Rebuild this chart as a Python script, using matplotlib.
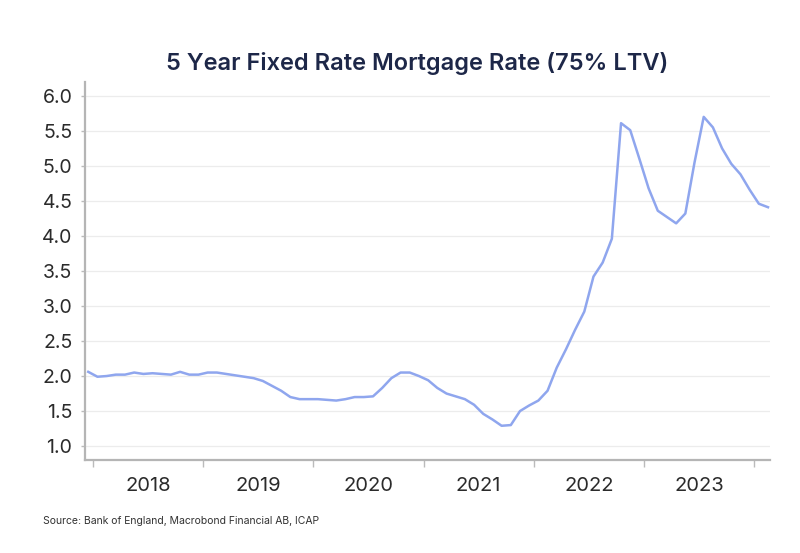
import matplotlib
matplotlib.use("Agg")
import matplotlib.pyplot as plt
import numpy as np

# monthly 5y fixed 75% LTV rate, Dec 2017 .. Feb 2024
start_year = 2017
start_month = 12
rates = [
    2.06,
    1.99, 2.00, 2.02, 2.02, 2.05, 2.03, 2.04, 2.03, 2.02, 2.06, 2.02, 2.02,
    2.05, 2.05, 2.03, 2.01, 1.99, 1.97, 1.93, 1.86, 1.79, 1.70, 1.67, 1.67,
    1.67, 1.66, 1.65, 1.67, 1.70, 1.70, 1.71, 1.83, 1.97, 2.05, 2.05, 2.00,
    1.94, 1.83, 1.75, 1.71, 1.67, 1.59, 1.46, 1.38, 1.29, 1.30, 1.50, 1.58,
    1.65, 1.79, 2.12, 2.38, 2.66, 2.92, 3.42, 3.62, 3.96, 5.61, 5.51, 5.10,
    4.68, 4.36, 4.27, 4.18, 4.32, 5.05, 5.70, 5.55, 5.25, 5.03, 4.88, 4.66,
    4.46, 4.41,
]
years = [2018, 2019, 2020, 2021, 2022, 2023]
y_ticks = [1.0, 1.5, 2.0, 2.5, 3.0, 3.5, 4.0, 4.5, 5.0, 5.5, 6.0]

title = "5 Year Fixed Rate Mortgage Rate (75% LTV)"
source = "Source: Bank of England, Macrobond Financial AB, ICAP"

# mid-month positions in fractional years
months = np.arange(len(rates))
x = start_year + (start_month - 1 + months + 0.5) / 12

plt.rcParams["font.family"] = ["Inter", "DejaVu Sans"]

fig = plt.figure(figsize=(8, 5.53), dpi=100)
ax = fig.add_axes([0.106, 0.168, 0.8565, 0.684])

ax.plot(x, rates, color="#8fa6ee", linewidth=1.8, solid_joinstyle="round")

ax.set_xlim(2017.927, 2024.143)
ax.set_ylim(0.8, 6.2)

ax.set_yticks(y_ticks)
ax.set_yticklabels([f"{v:.1f}" for v in y_ticks])
ax.yaxis.grid(True, color="#ececec", linewidth=0.9)
ax.set_axisbelow(True)

ax.set_xticks(years + [2024])
ax.set_xticklabels([])
ax.set_xticks([yr + 0.5 for yr in years], minor=True)
ax.set_xticklabels([str(yr) for yr in years], minor=True)

ax.tick_params(axis="x", which="major", length=5, width=1, color="#bbbbbb")
ax.tick_params(axis="x", which="minor", length=0, labelsize=14.5, colors="#2b2b2b", pad=12)
ax.tick_params(axis="y", length=3, width=1, color="#bbbbbb", labelsize=14, labelcolor="#2b2b2b", pad=6)

for side in ["top", "right"]:
    ax.spines[side].set_visible(False)
for side in ["left", "bottom"]:
    ax.spines[side].set_color("#b5b5b5")
    ax.spines[side].set_linewidth(1.6)

fig.text(0.521, 0.886, title, ha="center", va="center", fontsize=17,
         fontweight="semibold", color="#1d2748")
fig.text(0.054, 0.057, source, ha="left", va="center", fontsize=7.5, color="#333333")

fig.savefig("out.png", dpi=100)
